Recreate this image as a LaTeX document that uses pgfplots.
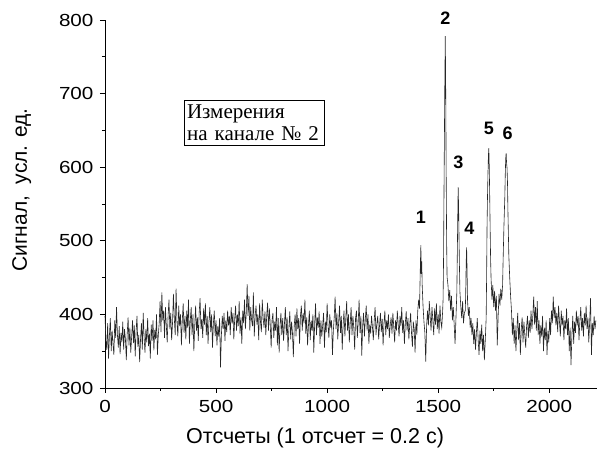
\documentclass[border=0pt]{standalone}
\usepackage{pgfplots}
\pgfplotsset{compat=1.18}
\usepackage{fontspec}
\setmainfont{Liberation Sans}
\newfontfamily\boxserif{Liberation Serif}
\newfontfamily\tickfont[FakeStretch=1.18]{Liberation Sans}
\begin{document}
\begin{tikzpicture}
\begin{axis}[
  scale only axis, width=492pt, height=368pt,
  at={(0,0)}, anchor=south west,
  xmin=0, xmax=2215, ymin=300, ymax=800,
  axis x line*=bottom, axis y line*=left,
  axis line style={line width=0.8pt},
  tick align=outside,
  major tick length=5pt, minor tick length=3pt,
  tick style={line width=0.8pt, black},
  xtick={0,500,1000,1500,2000}, ytick={300,400,500,600,700,800},
  minor x tick num=1, minor y tick num=1,
  /pgf/number format/assume math mode=true,
  /pgf/number format/1000 sep={},
  ticklabel style={font=\tickfont\fontsize{17.5}{18}\selectfont},
  xticklabel style={yshift=-4pt},
  yticklabel style={xshift=-3pt},
  xlabel={Отсчеты (1 отсчет = 0.2 с)},
  ylabel={Сигнал,\ \ усл. ед.},
  xlabel style={font=\fontsize{21.5}{22}\selectfont, at={(axis description cs:0.427,-0.152)}, anchor=base},
  ylabel style={font=\fontsize{21}{22}\selectfont, at={(axis description cs:-0.159,0.538)}, anchor=base},
  clip=false,
]
\addplot[black!85, line width=0.6pt] coordinates {
(0,398)(4,365)(8,352)(12,388)(16,340)(20,372)(24,395)(28,350)(32,378)(36,360)
(40,345)(44,392)(48,368)(52,410)(56,372)(60,355)(64,384)(68,346)(72,375)(76,362)
(80,390)(84,352)(88,380)(92,366)(96,338)(100,374)(104,396)(108,358)(112,382)(116,348)
(120,370)(124,392)(128,361)(132,385)(136,343)(140,377)(144,398)(148,356)(152,372)(156,335)
(160,366)(164,388)(168,352)(172,402)(176,369)(180,348)(184,380)(188,362)(192,395)(196,357)
(200,374)(204,340)(208,386)(212,364)(216,392)(220,351)(224,379)(228,366)(232,400)(236,345)
(240,372)(244,388)
(248,418)(252,376)(256,430)(260,392)(264,405)(268,368)(272,410)(276,385)(280,362)(284,398)
(288,420)(292,380)(296,402)(300,365)(304,388)(308,428)(312,395)(316,372)(320,435)(324,390)
(328,370)(332,412)(336,384)(340,400)(344,358)(348,392)(352,415)(356,375)(360,398)(364,366)
(368,405)(372,382)(376,420)(380,360)(384,392)(388,410)(392,372)(396,400)(400,350)(404,385)
(408,412)(412,378)(416,396)(420,364)(424,402)(428,422)(432,380)(436,394)(440,368)(444,408)
(448,386)(452,415)(456,372)(460,398)(464,360)(468,390)(472,410)(476,376)(480,400)(484,355)
(488,388)(492,405)(496,370)
(500,392)(504,358)(508,384)(512,370)(516,395)(520,328)(524,372)(528,398)(532,380)(536,402)
(540,364)(544,392)(548,376)(552,405)(556,385)(560,398)
(564,372)(568,410)(572,388)(576,402)(580,366)(584,395)(588,412)(592,378)(596,400)(600,384)
(604,418)(608,374)(612,396)(616,360)(620,405)(624,388)(628,420)(632,380)(636,402)(640,441)
(644,398)(648,425)(652,378)(656,410)(660,392)(664,384)(668,430)(672,370)(676,398)(680,412)
(684,386)(688,400)(692,365)(696,415)(700,390)(704,376)(708,420)(712,395)(716,382)(720,404)
(724,372)(728,398)(732,416)(736,378)(740,408)(744,386)(748,355)(752,392)(756,402)(760,368)
(764,390)(768,378)(772,410)(776,358)(780,395)(784,348)(788,384)(792,402)(796,372)
(800,395)(804,364)(808,388)(812,410)(816,372)(820,396)(824,350)(828,382)(832,404)(836,366)
(840,390)(844,375)(848,342)(852,385)(856,400)(860,370)(864,408)(868,380)(872,395)(876,360)
(880,398)(884,412)(888,378)(892,402)(896,388)(900,420)(904,374)(908,396)(912,358)(916,385)
(920,405)(924,365)(928,392)(932,378)(936,400)(940,348)(944,388)(948,415)(952,372)(956,396)
(960,382)(964,404)(968,360)(972,392)(976,370)(980,385)(984,402)(988,355)(992,390)(996,376)
(1000,415)(1004,385)(1008,368)(1012,400)(1016,382)(1020,392)(1024,345)(1028,378)(1032,396)(1036,424)
(1040,380)(1044,402)(1048,366)(1052,390)(1056,412)(1060,375)(1064,398)(1068,352)(1072,386)(1076,405)
(1080,370)(1084,394)(1088,418)(1092,378)(1096,400)(1100,362)(1104,388)(1108,410)(1112,372)(1116,398)
(1120,382)(1124,352)(1128,395)(1132,405)(1136,368)(1140,390)(1144,420)(1148,375)(1152,398)(1156,344)
(1160,385)(1164,402)(1168,370)(1172,394)(1176,412)(1180,378)(1184,400)(1188,360)(1192,386)(1196,374)
(1200,398)(1204,383)(1208,365)(1212,392)(1216,410)(1220,372)(1224,388)(1228,398)(1232,366)(1236,385)
(1240,402)(1244,376)(1248,394)(1252,358)(1256,388)(1260,405)(1264,372)(1268,392)(1272,380)(1276,400)
(1280,368)(1284,385)(1288,396)(1292,374)(1296,402)(1300,383)(1304,362)(1308,392)(1312,378)(1316,405)
(1320,386)(1324,370)(1328,398)(1332,384)(1336,410)(1340,375)(1344,392)(1348,360)(1352,388)(1356,404)
(1360,378)(1364,395)(1368,366)(1372,386)(1376,402)(1380,374)(1384,356)(1388,390)(1392,380)(1396,348)
(1400,392)(1404,372)(1408,405)(1412,420)(1416,408)(1418,440)(1420,470)(1422,494)(1424,455)(1426,472)
(1428,440)(1432,410)(1436,390)(1440,375)(1444,336)(1448,385)
(1452,405)(1456,385)(1460,418)(1464,396)(1468,378)(1472,410)(1476,392)(1480,372)(1484,408)(1488,386)
(1492,415)(1496,380)(1500,400)(1504,374)(1508,412)(1512,390)(1516,382)(1520,404)
(1522,420)(1524,470)(1526,560)(1528,640)(1530,720)(1532,778)(1534,700)(1536,590)(1538,500)(1540,451)
(1544,440)(1548,418)(1552,433)(1556,405)(1560,425)(1564,392)(1568,410)(1572,386)(1576,360)(1580,395)
(1584,430)(1586,480)(1588,530)(1590,573)(1592,545)(1594,500)(1596,460)(1598,430)(1602,410)(1606,395)
(1610,418)(1614,388)(1618,402)
(1622,405)(1624,430)(1626,470)(1628,491)(1630,462)(1632,420)(1636,398)(1640,410)(1644,382)(1648,395)
(1652,372)(1656,388)(1660,360)(1664,380)(1668,352)(1672,375)(1676,395)(1680,365)(1684,345)(1688,378)
(1692,360)(1696,386)(1700,350)(1704,372)(1708,338)(1712,365)(1716,395)
(1718,450)(1720,520)(1722,560)(1724,590)(1726,615)(1728,626)(1730,600)(1732,560)(1734,515)(1736,475)
(1738,450)(1742,420)(1746,440)(1750,410)(1754,432)(1758,405)(1762,425)(1766,358)(1770,398)(1774,428)
(1778,412)(1782,435)(1786,420)(1790,440)
(1792,470)(1796,520)(1800,560)(1802,590)(1804,612)(1806,619)(1808,605)(1810,599)(1812,580)(1814,540)
(1816,510)(1818,480)(1822,450)(1826,425)(1830,405)
(1834,372)(1838,395)(1842,360)(1846,385)(1850,350)(1854,378)(1858,402)(1862,365)(1866,388)(1870,345)
(1874,380)(1878,396)(1882,362)(1886,390)(1890,372)(1894,355)(1898,384)(1902,398)(1906,368)(1910,392)
(1914,375)(1918,405)(1922,380)(1926,398)(1930,424)(1934,386)(1938,410)(1942,378)(1946,418)(1950,372)
(1954,392)(1958,360)(1962,385)(1966,370)(1970,398)(1974,350)(1978,382)(1982,365)(1986,392)(1990,345)
(1994,378)(1998,362)(2002,395)(2006,372)(2010,405)(2014,388)(2018,424)(2022,395)(2026,410)(2030,385)
(2034,402)(2038,376)(2042,412)(2046,390)(2050,370)(2054,405)(2058,385)(2062,398)(2066,365)(2070,392)
(2074,380)(2078,408)(2082,372)(2086,395)(2090,350)(2094,382)(2098,331)(2102,372)(2106,398)(2110,360)
(2114,390)(2118,375)(2122,405)(2126,385)(2130,398)(2134,365)(2138,392)(2142,410)(2146,378)(2150,395)
(2154,370)(2158,402)(2162,385)(2166,412)(2170,380)(2174,396)(2178,362)(2182,390)(2186,422)(2190,345)
(2194,388)(2198,372)(2202,398)(2206,380)(2210,392)
};
\begin{scope}[font=\fontsize{18}{18}\selectfont\bfseries]
\node at (axis cs:1422,532) {1};
\node at (axis cs:1532,803) {2};
\node at (axis cs:1591,606) {3};
\node at (axis cs:1640,517) {4};
\node at (axis cs:1728,653) {5};
\node at (axis cs:1813,646) {6};
\end{scope}
\node[draw, line width=0.6pt, align=left, inner xsep=3pt, inner ysep=4.5pt,
  font=\boxserif\fontsize{21}{22}\selectfont, text width=134pt]
  at (axis cs:671,660) {Измерения\\на канале № 2};
\end{axis}
\pgfresetboundingbox
\path (-105pt,-61pt) rectangle (492pt,388pt);
\end{tikzpicture}
\end{document}
